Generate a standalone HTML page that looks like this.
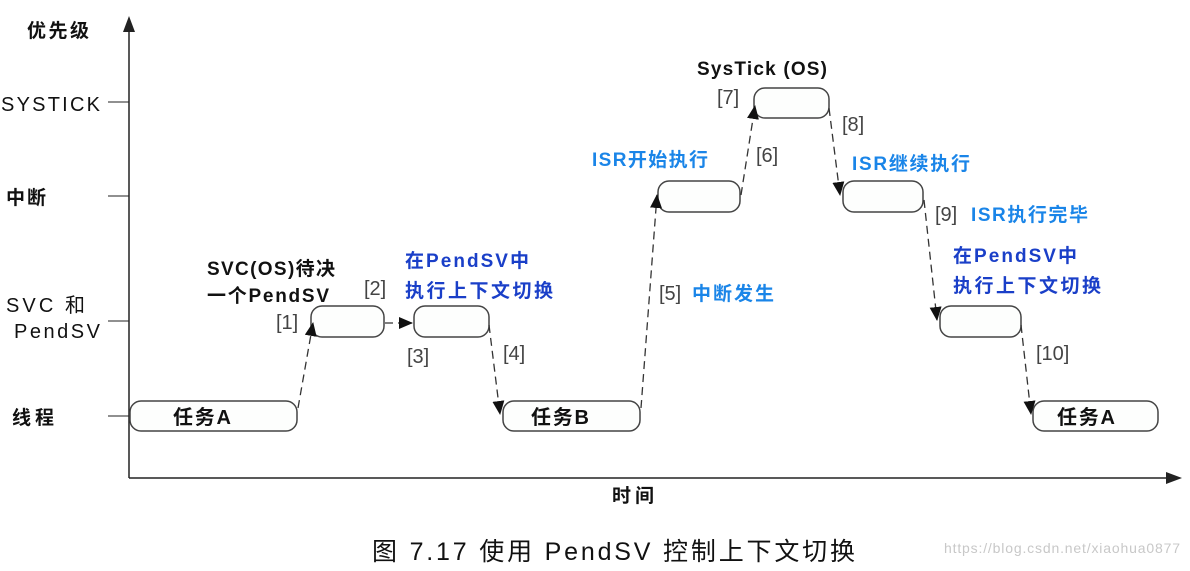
<!DOCTYPE html>
<html><head><meta charset="utf-8"><style>
body{margin:0;background:#fff}
svg text{font-family:"Liberation Sans","Noto Sans CJK SC",sans-serif}
</style></head><body>
<svg width="1190" height="566" viewBox="0 0 1190 566" xmlns="http://www.w3.org/2000/svg">
<defs>
<marker id="ah" markerWidth="14" markerHeight="12" refX="13" refY="6" orient="auto" markerUnits="userSpaceOnUse"><path d="M0,0 L14,6 L0,12 z" fill="#111"/></marker>
</defs>
<line x1="129" y1="478" x2="129" y2="22" stroke="#222" stroke-width="1.5"/>
<path d="M123,32 L129,16 L135,32 z" fill="#222"/>
<line x1="129" y1="478" x2="1170" y2="478" stroke="#222" stroke-width="1.5"/>
<path d="M1166,472 L1182,478 L1166,484 z" fill="#222"/>
<g stroke="#222" stroke-width="1">
<line x1="108" y1="102" x2="129" y2="102"/>
<line x1="108" y1="196" x2="129" y2="196"/>
<line x1="108" y1="321" x2="129" y2="321"/>
<line x1="108" y1="416" x2="129" y2="416"/>
</g>
<g fill="#111" font-size="20">
<text x="27" y="37" font-weight="bold" font-size="19" textLength="62">优先级</text>
<text x="1" y="111" textLength="99">SYSTICK</text>
<text x="6" y="204" font-weight="bold" font-size="19" textLength="40">中断</text>
<text x="6" y="312" textLength="79">SVC 和</text>
<text x="14" y="338" textLength="86">PendSV</text>
<text x="12" y="424" font-weight="bold" font-size="19" textLength="42">线程</text>
<text x="612" y="502" font-weight="bold" font-size="19" textLength="42">时间</text>
</g>
<g fill="#fdfefd" stroke="#444" stroke-width="1.5">
<rect x="130" y="401" width="167" height="30" rx="11"/>
<rect x="311" y="306" width="73" height="31" rx="11"/>
<rect x="414" y="306" width="75" height="31" rx="11"/>
<rect x="503" y="401" width="137" height="30" rx="11"/>
<rect x="658" y="181" width="82" height="31" rx="11"/>
<rect x="754" y="88" width="75" height="30" rx="11"/>
<rect x="843" y="181" width="80" height="31" rx="11"/>
<rect x="940" y="306" width="81" height="31" rx="11"/>
<rect x="1033" y="401" width="125" height="30" rx="11"/>
</g>
<g font-size="20" font-weight="bold" fill="#111">
<text x="173" y="424" textLength="58">任务A</text>
<text x="531" y="424" textLength="58">任务B</text>
<text x="1057" y="424" textLength="58">任务A</text>
</g>
<g stroke="#333" stroke-width="1.3" stroke-dasharray="8,5" fill="none" marker-end="url(#ah)">
<line x1="298" y1="408" x2="313" y2="323"/>
<line x1="385" y1="323" x2="412" y2="323"/>
<line x1="489" y1="325" x2="500" y2="414"/>
<line x1="641" y1="408" x2="657" y2="195"/>
<line x1="741" y1="195" x2="755" y2="106"/>
<line x1="829" y1="108" x2="840" y2="195"/>
<line x1="924" y1="200" x2="937" y2="320"/>
<line x1="1021" y1="325" x2="1031" y2="414"/>
</g>
<g font-size="20" fill="#444">
<text x="276" y="329">[1]</text>
<text x="364" y="295">[2]</text>
<text x="407" y="363">[3]</text>
<text x="503" y="360">[4]</text>
<text x="659" y="300">[5]</text>
<text x="756" y="162">[6]</text>
<text x="717" y="104">[7]</text>
<text x="842" y="131">[8]</text>
<text x="935" y="221">[9]</text>
<text x="1036" y="360">[10]</text>
</g>
<g font-size="19" font-weight="bold">
<text x="207" y="275" fill="#111" textLength="128">SVC(OS)待决</text>
<text x="207" y="302" fill="#111" textLength="122">一个PendSV</text>
<text x="405" y="267" fill="#1a3fc8" textLength="124">在PendSV中</text>
<text x="405" y="297" fill="#1a3fc8" textLength="148">执行上下文切换</text>
<text x="697" y="75" fill="#111" textLength="130">SysTick (OS)</text>
<text x="592" y="166" fill="#1a85e8" textLength="116">ISR开始执行</text>
<text x="692" y="300" fill="#1a85e8" textLength="82">中断发生</text>
<text x="852" y="170" fill="#1a85e8" textLength="118">ISR继续执行</text>
<text x="971" y="221" fill="#1a85e8" textLength="117">ISR执行完毕</text>
<text x="953" y="262" fill="#1a3fc8" textLength="124">在PendSV中</text>
<text x="953" y="292" fill="#1a3fc8" textLength="148">执行上下文切换</text>
</g>
<text x="372" y="560" font-size="25" fill="#111" textLength="483">图 7.17  使用 PendSV 控制上下文切换</text>
<text x="944" y="553" font-size="14" fill="#c8c8c8" textLength="236">https://blog.csdn.net/xiaohua0877</text>
</svg>
</body></html>
